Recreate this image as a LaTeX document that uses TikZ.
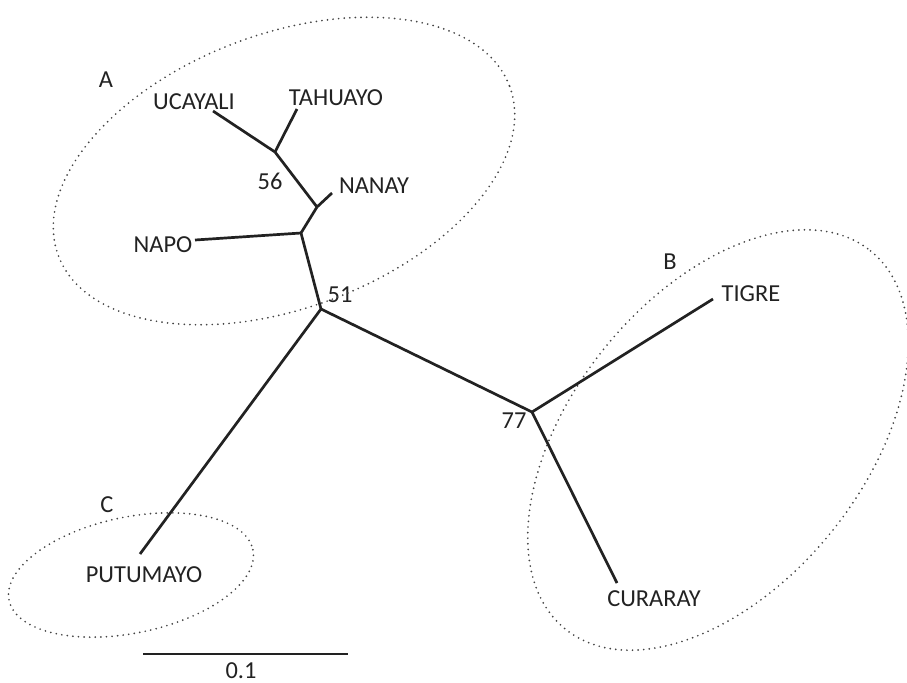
\documentclass[tikz,border=0pt]{standalone}
\usepackage{fontspec}
\setmainfont{Carlito}
\definecolor{ink}{HTML}{222222}
\definecolor{dots}{HTML}{444444}
\begin{document}
\begin{tikzpicture}[x=0.5pt,y=-0.5pt,
    every node/.style={font=\fontsize{12.2}{14}\selectfont,text=ink,inner sep=0pt},
    branch/.style={line width=1.35pt,draw=ink},
    group/.style={line width=0.95pt,draw=dots,dash pattern=on 0pt off 2.8pt,line cap=round}]
      \useasboundingbox (0,0) rectangle (907,682);
      % branch points and tips
      \path
        (275,152) coordinate (j1)
        (317,207) coordinate (j2)
        (301,233) coordinate (j3)
        (321,309) coordinate (root)
        (532,412) coordinate (j77)
        (213,111) coordinate (ucayali)
        (297,109) coordinate (tahuayo)
        (332,193) coordinate (nanay)
        (195,240) coordinate (napo)
        (713,299) coordinate (tigre)
        (617,583) coordinate (curaray)
        (140,554) coordinate (putumayo)
        (143,654) coordinate (bar0)
        (348,654) coordinate (bar1);
      % labels
      \draw
        (194,102) node (lucayali){UCAYALI}
        (336,98) node (ltahuayo){TAHUAYO}
        (374,186) node (lnanay){NANAY}
        (163,245) node (lnapo){NAPO}
        (751,294) node (ltigre){TIGRE}
        (654,599) node (lcuraray){CURARAY}
        (144,575) node (lputumayo){PUTUMAYO}
        (270,181) node (b56){56}
        (340,295) node (b51){51}
        (514,421) node (b77){77}
        (106,80) node (ga){A}
        (670,262) node (gb){B}
        (107,505) node (gc){C}
        (241,671) node (lbar){0.1};
      % groups
      \draw[group,rotate around={20.6:(284,171)}] (284,171) ellipse [x radius=241,y radius=137];
      \draw[group,rotate around={51.1:(718,440)}] (718,440) ellipse [x radius=243,y radius=146];
      \draw[group,rotate around={11.7:(131,575)}] (131,575) ellipse [x radius=124.5,y radius=58];
      \begin{scope}[branch]
        \draw (ucayali) to (j1);
        \draw (tahuayo) to (j1);
        \draw (j1) to (j2);
        \draw (nanay) to (j2);
        \draw (j2) to (j3);
        \draw (napo) to (j3);
        \draw (j3) to (root);
        \draw (root) to (j77);
        \draw (j77) to (tigre);
        \draw (j77) to (curaray);
        \draw (root) to (putumayo);
        \draw (bar0) to (bar1);
      \end{scope}
    \end{tikzpicture}
\end{document}
